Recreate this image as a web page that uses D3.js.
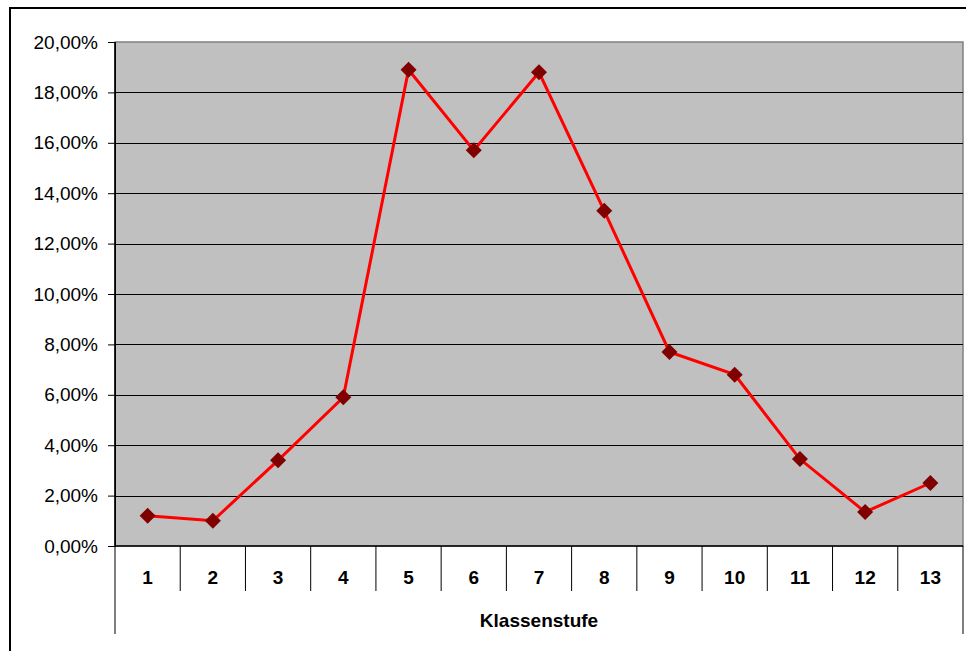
<!doctype html>
<html>
<head>
<meta charset="utf-8">
<script src="https://d3js.org/d3.v7.min.js"></script>
<style>
  body { margin: 0; background: #fff; }
  svg text { font-family: "Liberation Sans", Arial, sans-serif; }
</style>
</head>
<body>
<script>
var categories = ["1", "2", "3", "4", "5", "6", "7", "8", "9", "10", "11", "12", "13"];
var values = [1.2, 1.0, 3.4, 5.9, 18.9, 15.7, 18.8, 13.3, 7.7, 6.8, 3.45, 1.35, 2.5];
var yTicks = [0, 2, 4, 6, 8, 10, 12, 14, 16, 18, 20];
var axisTitle = "Klassenstufe";

var W = 966, H = 651;
var plotLeft = 115, plotRight = 963, plotTop = 42, plotBottom = 546;

var svg = d3.select("body").append("svg").attr("width", W).attr("height", H);

// outer chart border (runs off the window on right and bottom)
svg.append("rect")
    .attr("x", 10).attr("y", 8)
    .attr("width", W + 20).attr("height", H + 20)
    .attr("fill", "#fff").attr("stroke", "#000").attr("stroke-width", 2);

var x = d3.scaleBand().domain(categories).range([plotLeft, plotRight]);
var y = d3.scaleLinear().domain([0, 20]).range([plotBottom, plotTop]);

// plot area
svg.append("rect")
    .attr("x", plotLeft).attr("y", plotTop)
    .attr("width", plotRight - plotLeft).attr("height", plotBottom - plotTop)
    .attr("fill", "#c0c0c0").attr("stroke", "#808080").attr("stroke-width", 1.5);

// gridlines
svg.append("g").selectAll("line")
    .data(yTicks.slice(1, -1))
    .enter().append("line")
    .attr("x1", plotLeft).attr("x2", plotRight)
    .attr("y1", function(d) { return Math.round(y(d)) + 0.5; })
    .attr("y2", function(d) { return Math.round(y(d)) + 0.5; })
    .attr("stroke", "#000").attr("stroke-width", 1);

// y axis
var yAxis = svg.append("g")
    .attr("transform", "translate(" + plotLeft + ",0)")
    .call(d3.axisLeft(y).tickValues(yTicks).tickSize(7).tickPadding(10)
        .tickFormat(function(d) { return d.toFixed(2).replace(".", ",") + "%"; }));
yAxis.select(".domain").attr("stroke", "#000");
yAxis.selectAll("line").attr("stroke", "#000");
yAxis.selectAll("text").attr("font-size", 19).attr("fill", "#000")
    .attr("font-family", "Liberation Sans, Arial, sans-serif");

// x axis with category separators
var sep = categories.map(function(c) { return x(c); }).concat([plotRight]);
svg.append("g").selectAll("line")
    .data(sep)
    .enter().append("line")
    .attr("x1", function(d) { return d; }).attr("x2", function(d) { return d; })
    .attr("y1", plotBottom)
    .attr("y2", function(d, i) { return (i === 0 || i === sep.length - 1) ? 634 : 591; })
    .attr("stroke", "#000").attr("stroke-width", 1);

svg.append("line")
    .attr("x1", plotLeft).attr("x2", plotRight).attr("y1", plotBottom).attr("y2", plotBottom)
    .attr("stroke", "#000").attr("stroke-width", 1.5);
svg.append("line")
    .attr("x1", plotLeft).attr("x2", plotLeft).attr("y1", plotTop).attr("y2", plotBottom)
    .attr("stroke", "#000").attr("stroke-width", 1.5);

svg.append("g").selectAll("text")
    .data(categories)
    .enter().append("text")
    .attr("x", function(d) { return x(d) + x.bandwidth() / 2; })
    .attr("y", 584)
    .attr("text-anchor", "middle")
    .attr("font-size", 19).attr("font-weight", "bold")
    .text(function(d) { return d; });

svg.append("text")
    .attr("x", (plotLeft + plotRight) / 2).attr("y", 627)
    .attr("text-anchor", "middle")
    .attr("font-size", 19).attr("font-weight", "bold")
    .text(axisTitle);

// series
var line = d3.line()
    .x(function(d, i) { return x(categories[i]) + x.bandwidth() / 2; })
    .y(function(d) { return y(d); });

svg.append("path")
    .attr("d", line(values))
    .attr("fill", "none").attr("stroke", "#ff0000").attr("stroke-width", 3);

svg.append("g").selectAll("path")
    .data(values)
    .enter().append("path")
    .attr("d", d3.symbol().type(d3.symbolSquare).size(128))
    .attr("transform", function(d, i) {
        return "translate(" + (x(categories[i]) + x.bandwidth() / 2) + "," + y(d) + ") rotate(45)";
    })
    .attr("fill", "#800000");
</script>
</body>
</html>
